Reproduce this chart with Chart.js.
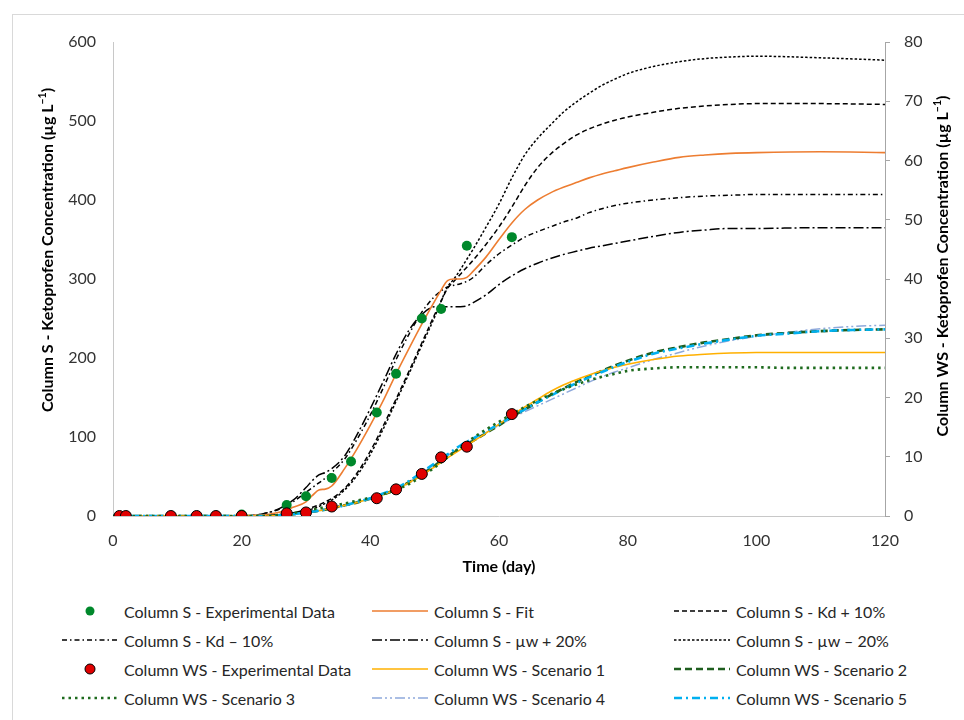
<!DOCTYPE html>
<html><head><meta charset="utf-8">
<script src="https://cdn.jsdelivr.net/npm/chart.js@4.4.1/dist/chart.umd.min.js"></script>
<style>
html,body{margin:0;padding:0;background:#fff;width:964px;height:720px;overflow:hidden;}
#frame{position:absolute;left:12px;top:14px;width:1000px;height:800px;border-left:1px solid #d9d9d9;border-top:1px solid #d9d9d9;}
#c{position:absolute;left:0;top:0;}
.li{position:absolute;height:20px;display:flex;align-items:center;font:16px Lato, sans-serif;color:#262626;white-space:nowrap;}
.li svg{margin-right:6px;flex:none;}
</style></head><body>
<div id="frame"></div>
<canvas id="c" width="964" height="600"></canvas>
<div id="legend"></div>
<script>
// ---------- data ----------
const xTicks = [0, 20, 40, 60, 80, 100, 120];
const yTicksS = [0, 100, 200, 300, 400, 500, 600];
const yTicksWS = [0, 10, 20, 30, 40, 50, 60, 70, 80];

const daysExpS = [1, 2, 9, 13, 16, 20, 27, 30, 34, 37, 41, 44, 48, 51, 55, 62];
const expS     = [0, 0, 0, 0, 0, 2, 14, 25, 48, 69, 131, 180, 250, 262, 342, 353];

const daysExpWS = [1, 2, 9, 13, 16, 20, 27, 30, 34, 41, 44, 48, 51, 55, 62];
const expWS     = [0, 0, 0, 0, 0, 0, 0.45, 0.6, 1.6, 3.0, 4.5, 7.1, 9.9, 11.7, 17.2];

const daysCurveS = [0,20,22,24,26,28,30,31,32,33, 34,36,38,40,42,44,46,48,50,51, 52,53,54,55,56,58,60,62,64,66, 68,70,72,74,76,78,80,84,88,92, 96,100,110,120];
const fitS     = [0,0,1,2,5,11,18,26,33,34, 38,60,86,115,146,180,212,243,272,286, 298,300,300,302,310,328,350,371,388,400, 409,416,422,428,433,437,441,448,454,457, 459,460,461,460];
const kdPlusS  = [0,0,0,1,2,4,8,11,14,18, 22,35,55,82,114,148,183,219,255,272, 288,297,306,315,324,344,366,391,418,441, 458,471,482,490,496,501,505,511,516,519, 521,522,522,521];
const kdMinusS = [0,0,1,4,9,18,30,36,42,48, 55,72,98,128,162,198,230,258,278,285, 290,292,294,297,302,318,332,343,353,360, 366,372,377,384,389,393,396,400,403,405, 406,407,407,407];
const muPlusS  = [0,0,1,4,10,20,36,45,52,55, 60,76,104,136,170,205,235,255,265,265, 265,265,265,266,270,280,293,304,313,320, 326,331,335,339,342,345,348,354,359,362, 364,364,365,365];
const muMinusS = [0,0,0,1,2,4,7,9,12,16, 20,33,52,78,110,145,180,216,252,272, 290,300,312,325,338,366,395,428,457,478, 495,511,524,535,545,553,560,569,575,579, 581,582,580,577];

const daysCurveWS = [0,24,26,28,30,32,34,36,38,40, 42,44,46,48,50,52,54,56,58,60, 62,64,66,68,70,72,74,76,78,80, 84,88,92,96,100,105,110,115,120];
const scen1 = [0,0,0.1,0.3,0.6,0.9,1.3,1.8,2.3,2.9, 3.6,4.5,5.6,6.9,8.3,9.8,11.2,12.6,14.0,15.5, 17.0,18.4,19.7,21.0,22.1,23.0,23.8,24.5,25.1,25.6, 26.4,27.0,27.3,27.5,27.6,27.6,27.6,27.6,27.6];
const scen2 = [0,0,0.1,0.3,0.6,0.9,1.3,1.8,2.3,2.9, 3.6,4.5,5.7,7.0,8.5,10.0,11.4,12.7,14.0,15.3, 16.7,18.0,19.2,20.4,21.5,22.6,23.6,24.5,25.4,26.2, 27.6,28.5,29.3,29.9,30.5,30.9,31.2,31.4,31.5];
const scen3 = [0,0,0.2,0.5,0.9,1.3,1.7,2.1,2.6,3.1, 3.7,4.4,5.4,6.7,8.2,9.9,11.6,13.2,14.6,15.9, 17.2,18.4,19.5,20.5,21.4,22.2,22.9,23.5,24.0,24.5, 24.9,25.1,25.1,25.1,25.1,25.0,25.0,25.0,25.0];
const scen4 = [0,0,0.1,0.3,0.6,0.9,1.3,1.8,2.3,2.9, 3.6,4.5,5.7,7.2,8.7,10.2,11.6,12.9,14.1,15.3, 16.5,17.6,18.6,19.6,20.6,21.6,22.6,23.5,24.3,25.0, 26.4,27.6,28.7,29.6,30.3,31.0,31.6,32.0,32.2];
const scen5 = [0,0,0.1,0.3,0.6,0.9,1.3,1.8,2.4,3.0, 3.8,4.7,5.9,7.4,8.9,10.4,11.9,13.1,14.3,15.5, 16.8,18.0,19.2,20.3,21.4,22.4,23.4,24.3,25.2,26.0, 27.4,28.3,29.1,29.8,30.4,30.8,31.2,31.4,31.5];

// ---------- build ----------
const pts = (xs, ys) => xs.map((x, i) => ({x: x, y: ys[i]}));
const FONT = 'Lato, "Open Sans", sans-serif';

function lineDs(label, xs, ys, axis, color, width, dash, order) {
  return {label, data: pts(xs, ys), yAxisID: axis, borderColor: color, backgroundColor: color,
    borderWidth: width, borderDash: dash, pointRadius: 0, pointHoverRadius: 0, fill: false,
    cubicInterpolationMode: 'monotone', order: order};
}
function pointDs(label, xs, ys, axis, fillC, borderC, r, bw, order) {
  return {label, data: pts(xs, ys), yAxisID: axis, showLine: false, pointRadius: r,
    pointBackgroundColor: fillC, pointBorderColor: borderC, pointBorderWidth: bw,
    backgroundColor: fillC, borderColor: borderC, order: order, isPoint: true};
}

const datasets = [
  pointDs('Column S - Experimental Data', daysExpS, expS, 'y', '#00882B', '#00882B', 5, 0, 1),
  lineDs('Column S - Fit', daysCurveS, fitS, 'y', '#ED7D31', 1.6, [], 5),
  lineDs('Column S - Kd + 10%', daysCurveS, kdPlusS, 'y', '#000000', 1.5, [5, 3], 5),
  lineDs('Column S - Kd \u2013 10%', daysCurveS, kdMinusS, 'y', '#000000', 1.5, [5, 3, 1.5, 3], 5),
  lineDs('Column S - \u00b5w + 20%', daysCurveS, muPlusS, 'y', '#000000', 1.5, [10, 3, 2, 3], 5),
  lineDs('Column S - \u00b5w \u2013 20%', daysCurveS, muMinusS, 'y', '#000000', 1.5, [2.5, 2], 5),
  pointDs('Column WS - Experimental Data', daysExpWS, expWS, 'y2', '#E00000', '#000000', 5.5, 1, 0),
  lineDs('Column WS - Scenario 1', daysCurveWS, scen1, 'y2', '#FFB000', 1.6, [], 4),
  lineDs('Column WS - Scenario 2', daysCurveWS, scen2, 'y2', '#1E5E1E', 2.6, [7, 4], 4),
  lineDs('Column WS - Scenario 3', daysCurveWS, scen3, 'y2', '#1E6B1E', 2.6, [2.5, 4], 3),
  lineDs('Column WS - Scenario 4', daysCurveWS, scen4, 'y2', '#8EA9DB', 1.5, [10, 3, 2, 3, 2, 3], 4),
  lineDs('Column WS - Scenario 5', daysCurveWS, scen5, 'y2', '#00B0F0', 2.6, [8, 4, 2, 4], 3)
];

const titles = {
  left:  ['Column S - Ketoprofen Concentration (\u00b5g L', '\u22121', ')'],
  right: ['Column WS - Ketoprofen Concentration (\u00b5g L', '\u22121', ')'],
  x: 'Time (day)'
};

function drawRich(ctx, x, y, parts) {
  ctx.save();
  ctx.translate(x, y);
  ctx.rotate(-Math.PI / 2);
  const f1 = 'bold 16px ' + FONT, f2 = 'bold 10.5px ' + FONT;
  ctx.font = f1; const w1 = ctx.measureText(parts[0]).width, w3 = ctx.measureText(parts[2]).width;
  ctx.font = f2; const w2 = ctx.measureText(parts[1]).width;
  let sx = -(w1 + w2 + w3) / 2;
  ctx.fillStyle = '#000'; ctx.textBaseline = 'middle'; ctx.textAlign = 'left';
  ctx.font = f1; ctx.fillText(parts[0], sx, 0); sx += w1;
  ctx.font = f2; ctx.fillText(parts[1], sx, -5); sx += w2;
  ctx.font = f1; ctx.fillText(parts[2], sx, 0);
  ctx.restore();
}

const titlePlugin = {
  id: 'axisTitles',
  afterDraw(chart) {
    const ctx = chart.ctx, ca = chart.chartArea;
    drawRich(ctx, ca.left - 65, ca.top + 208, titles.left);
    drawRich(ctx, ca.right + 58, ca.top + 224, titles.right);
    ctx.save();
    ctx.font = 'bold 16px ' + FONT; ctx.fillStyle = '#000';
    ctx.textAlign = 'center'; ctx.textBaseline = 'middle';
    ctx.fillText(titles.x, (ca.left + ca.right) / 2, ca.bottom + 51);
    ctx.restore();
  }
};

function makeChart() {
  const tickFont = {family: FONT, size: 16};
  new Chart(document.getElementById('c'), {
    type: 'line',
    data: {datasets},
    options: {
      responsive: false, animation: false, devicePixelRatio: 1,
      layout: {padding: {top: 42, left: 0, right: 0, bottom: 0}},
      plugins: {legend: {display: false}, tooltip: {enabled: false}},
      scales: {
        x: {type: 'linear', min: 0, max: 120,
          afterBuildTicks: s => { s.ticks = xTicks.map(v => ({value: v})); },
          afterFit: s => { s.height = 84; },
          grid: {display: false, drawTicks: false},
          border: {display: true, color: '#c8c8c8', width: 1},
          ticks: {font: tickFont, color: '#333', padding: 15, maxRotation: 0}},
        y: {type: 'linear', position: 'left', min: 0, max: 600,
          afterBuildTicks: s => { s.ticks = yTicksS.map(v => ({value: v})); },
          afterFit: s => { s.width = 113; },
          grid: {display: false, drawTicks: false},
          border: {display: true, color: '#c8c8c8', width: 1},
          ticks: {font: tickFont, color: '#333', padding: 17}},
        y2: {type: 'linear', position: 'right', min: 0, max: 80,
          afterBuildTicks: s => { s.ticks = yTicksWS.map(v => ({value: v})); },
          afterFit: s => { s.width = 79; },
          grid: {display: true, drawOnChartArea: false, drawTicks: true, tickLength: 5, color: '#a6a6a6'},
          border: {display: true, color: '#a6a6a6', width: 1},
          ticks: {font: tickFont, color: '#333', padding: 14}}
      }
    },
    plugins: [titlePlugin]
  });
  buildLegend();
}

function buildLegend() {
  const colX = [62, 372, 674], rowY = [611, 640, 669, 698];
  const host = document.getElementById('legend');
  datasets.forEach((ds, i) => {
    const col = i % 3, row = Math.floor(i / 3);
    const div = document.createElement('div');
    div.className = 'li';
    div.style.left = colX[col] + 'px';
    div.style.top = (rowY[row] - 10) + 'px';
    let svg;
    if (ds.isPoint) {
      svg = '<svg width="56" height="20"><circle cx="28" cy="10" r="' + (ds.pointRadius - 0.5) + '" fill="' + ds.pointBackgroundColor +
        '" stroke="' + ds.pointBorderColor + '" stroke-width="' + ds.pointBorderWidth + '"/></svg>';
    } else {
      svg = '<svg width="56" height="20"><line x1="0" y1="10" x2="56" y2="10" stroke="' + ds.borderColor +
        '" stroke-width="' + ds.borderWidth + '" stroke-dasharray="' + (ds.borderDash.length ? ds.borderDash.join(' ') : 'none') + '"/></svg>';
    }
    div.innerHTML = svg + '<span>' + ds.label + '</span>';
    host.appendChild(div);
  });
}

const loads = document.fonts ? Promise.all([
  document.fonts.load('16px Lato'), document.fonts.load('bold 16px Lato')
]).catch(() => {}) : Promise.resolve();
loads.then(makeChart, makeChart);
</script>
</body></html>
